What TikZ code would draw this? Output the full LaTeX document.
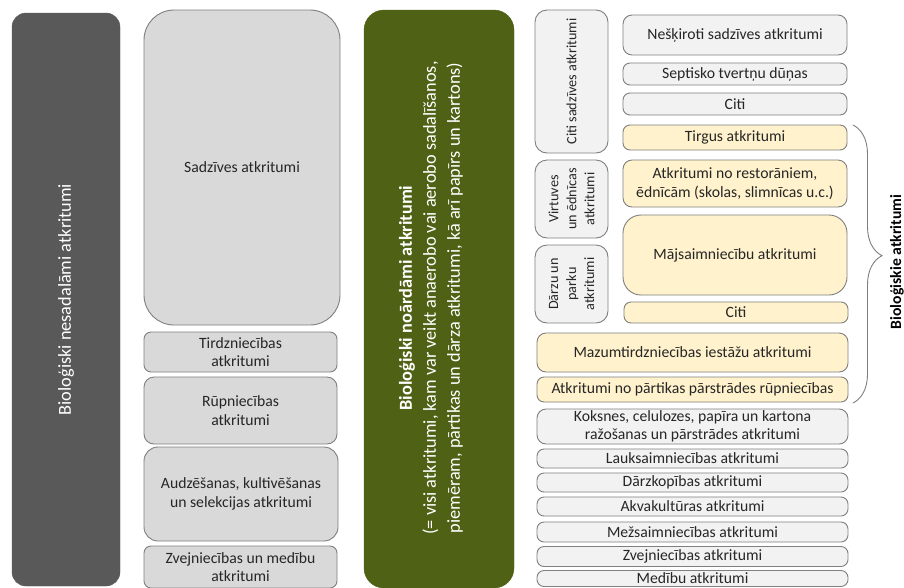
\documentclass[tikz,border=0pt]{standalone}
\usepackage{fontspec}
\setmainfont{Carlito}
\usetikzlibrary{decorations.pathreplacing}
\definecolor{darkbox}{HTML}{595959}
\definecolor{lgray}{HTML}{D9D9D9}
\definecolor{vlgray}{HTML}{F2F2F2}
\definecolor{lyellow}{HTML}{FFF2CC}
\definecolor{olive}{HTML}{4F6114}
\definecolor{bordergray}{HTML}{7F7F7F}
\definecolor{txt}{HTML}{262626}
\begin{document}
\begin{tikzpicture}[x=1pt,y=-1pt,
  basefont/.style={font=\fontsize{15.7}{18.5}\selectfont},
  smallfont/.style={font=\fontsize{14.2}{18}\selectfont},
  bigfont/.style={font=\fontsize{18.3}{24}\selectfont},
  boxbase/.style={draw=bordergray, line width=0.9pt, rounded corners=7pt,
    inner xsep=2pt, inner ysep=0pt, align=center, text=txt, basefont},
  lbox/.style={boxbase, fill=lgray},
  gbox/.style={boxbase, fill=vlgray},
  ybox/.style={boxbase, fill=lyellow},
  rbox/.style={boxbase, fill=vlgray, rotate=90, smallfont, rounded corners=12pt},
]
\useasboundingbox (0,0) rectangle (904,587);
\clip (0,0) rectangle (904,587);
\fill[white] (0,0) rectangle (904,587);

% left dark box
\node[draw=darkbox, fill=darkbox, rounded corners=14pt, rotate=90,
  minimum width=573pt, minimum height=108pt, inner sep=0pt,
  text=white, bigfont] (nd) at (66,299.5) {Bioloģiski nesadalāmi atkritumi};

% left gray column
\node[lbox, rounded corners=30pt, minimum width=196pt, minimum height=315pt] (sadz) at (242,167.5) {Sadzīves atkritumi};
\node[lbox, minimum width=193pt, minimum height=40pt] (tird) at (240.5,352) {Tirdzniecības\\atkritumi};
\node[lbox, rounded corners=10pt, minimum width=193pt, minimum height=67pt] (rup) at (240.5,410.5) {Rūpniecības\\atkritumi};
\node[lbox, rounded corners=14pt, minimum width=194pt, minimum height=94pt] (audz) at (241,494) {Audzēšanas, kultivēšanas\\un selekcijas atkritumi};
\node[lbox, minimum width=193pt, minimum height=42pt] (zvm) at (240.5,567) {Zvejniecības un medību\\atkritumi};

% green box
\node[draw=olive, fill=olive, rounded corners=20pt, minimum width=150pt,
  minimum height=578pt] (green) at (439,299) {};
\node[rotate=90, text=white, bigfont, align=center, inner sep=0pt] (greentxt) at (431,298)
  {\textbf{Bioloģiski noārdāmi atkritumi}\\(= visi atkritumi, kam var veikt anaerobo vai aerobo sadalīšanos,\\piemēram, pārtikas un dārza atkritumi, kā arī papīrs un kartons)};

% small rotated boxes
\node[rbox, minimum width=143pt, minimum height=73pt] (citis) at (571.5,81.5) {Citi sadzīves atkritumi};
\node[rbox, minimum width=78pt, minimum height=73pt] (virt) at (571.5,199) {Virtuves\\un ēdnīcas\\atkritumi};
\node[rbox, minimum width=78pt, minimum height=73pt] (darz) at (571.5,284) {Dārzu un\\parku\\atkritumi};

% right column
\node[gbox, rounded corners=9pt, minimum width=224pt, minimum height=40pt] (nesk) at (735,35) {Nešķiroti sadzīves atkritumi};
\node[gbox, minimum width=224pt, minimum height=22pt] (sept) at (735,74) {Septisko tvertņu dūņas};
\node[gbox, minimum width=224pt, minimum height=22pt] (citia) at (735,104) {Citi};
\node[ybox, minimum width=224pt, minimum height=25pt] (tirg) at (735,137.5) {Tirgus atkritumi};
\node[ybox, rounded corners=9pt, minimum width=224pt, minimum height=47pt] (rest) at (735,183.5) {Atkritumi no restorāniem,\\ēdnīcām (skolas, slimnīcas u.c.)};
\node[ybox, rounded corners=18pt, minimum width=224pt, minimum height=80pt] (maj) at (735,255) {Mājsaimniecību atkritumi};
\node[ybox, minimum width=224pt, minimum height=21pt] (citib) at (736,312.5) {Citi};
\node[ybox, rounded corners=9pt, minimum width=311pt, minimum height=39pt] (mazu) at (692.5,352.5) {Mazumtirdzniecības iestāžu atkritumi};
\node[ybox, minimum width=311pt, minimum height=25pt] (part) at (692.5,389.5) {Atkritumi no pārtikas pārstrādes rūpniecības};
\node[gbox, rounded corners=9pt, minimum width=311pt, minimum height=35pt] (koks) at (692.5,426.5) {Koksnes, celulozes, papīra un kartona\\ražošanas un pārstrādes atkritumi};
\node[gbox, minimum width=311pt, minimum height=19pt] (lauk) at (692.5,458.5) {Lauksaimniecības atkritumi};
\node[gbox, minimum width=311pt, minimum height=19pt] (darzk) at (692.5,482.5) {Dārzkopības atkritumi};
\node[gbox, minimum width=311pt, minimum height=19pt] (akva) at (692.5,506.5) {Akvakultūras atkritumi};
\node[gbox, minimum width=311pt, minimum height=20pt] (mezs) at (692.5,532) {Mežsaimniecības atkritumi};
\node[gbox, minimum width=311pt, minimum height=20pt] (zvej) at (692.5,556.5) {Zvejniecības atkritumi};
\node[gbox, minimum width=311pt, minimum height=16pt] (med) at (692.5,578.5) {Medību atkritumi};

% brace
\coordinate (bt) at (853,125);
\coordinate (bb) at (853,403);
\draw[bordergray, line width=0.9pt, decorate,
  decoration={brace, amplitude=29pt, aspect=0.47}] (bt) -- (bb);
\node[rotate=90, text=black, font=\fontsize{15.7}{18}\selectfont\bfseries, inner sep=0pt] (blab) at (897,262) {Bioloģiskie atkritumi};
\end{tikzpicture}
\end{document}
